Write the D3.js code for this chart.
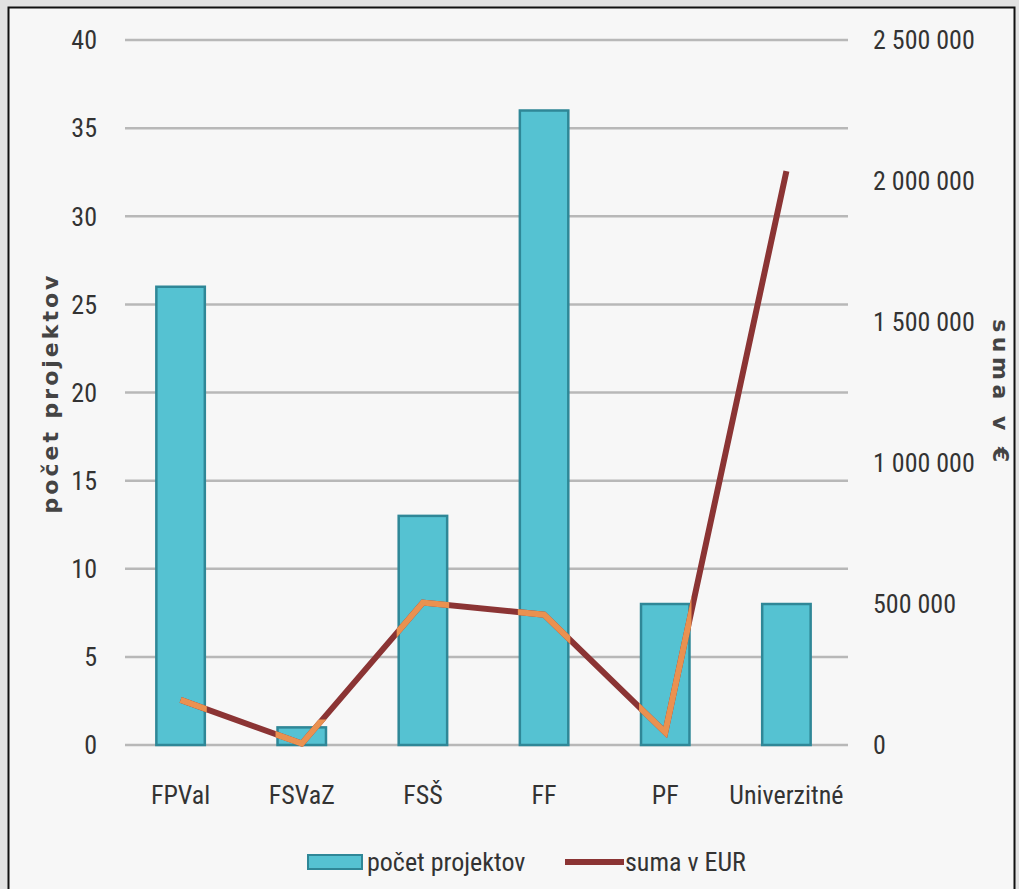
<!DOCTYPE html>
<html>
<head>
<meta charset="utf-8">
<script src="https://cdn.jsdelivr.net/npm/d3@7"></script>
<style>
  body { margin: 0; background: #e2e2e2; }
  text { font-family: "Liberation Sans Narrow", "Roboto Condensed", "Open Sans", sans-serif; fill: #333; }
</style>
</head>
<body>
<div id="chart"></div>
<script>
const categories = ["FPVal", "FSVaZ", "FSŠ", "FF", "PF", "Univerzitné"];
const projectCounts = [26, 1, 13, 36, 8, 8];
const sumsEur = [160000, 5000, 505000, 462000, 45000, 2035000];
const leftTicks = [0, 5, 10, 15, 20, 25, 30, 35, 40];
const rightTicks = [0, 500000, 1000000, 1500000, 2000000, 2500000];

const width = 1019;
const height = 889;
const fontSize = "26px";

const svg = d3.select("#chart")
  .append("svg")
  .attr("width", width)
  .attr("height", height)

// panel
svg.append("rect")
  .attr("x", 8.5).attr("y", 7.5)
  .attr("width", 1006).attr("height", 890)
  .attr("fill", "#f7f7f7")
  .attr("stroke", "#111")
  .attr("stroke-width", 2)

const xScale = d3.scaleBand()
  .domain(categories)
  .range([120, 847])
  .paddingInner(0.6)
  .paddingOuter(0.3)

const yLeft = d3.scaleLinear().domain([0, 40]).range([745, 40])
const yRight = d3.scaleLinear().domain([0, 2500000]).range([745, 40])

// gridlines
svg.append("g")
  .selectAll("line")
  .data(leftTicks)
  .enter()
  .append("line")
  .attr("x1", 125).attr("x2", 848)
  .attr("y1", d => yLeft(d)).attr("y2", d => yLeft(d))
  .attr("stroke", "#b8b8b8")
  .attr("stroke-width", 2.5)

const leftAxis = d3.axisLeft(yLeft).tickValues(leftTicks).tickSize(0).tickPadding(0)
svg.append("g")
  .attr("transform", "translate(97, 0)")
  .call(leftAxis)
  .call(g => g.select(".domain").remove())
  .selectAll("text")
  .style("font-size", fontSize)
  .attr("dy", "0.34em")

const fmt = d => d3.format(",")(d).replace(/,/g, " ")
const rightAxis = d3.axisRight(yRight).tickValues(rightTicks).tickSize(0).tickPadding(0).tickFormat(fmt)
svg.append("g")
  .attr("transform", "translate(873, 0)")
  .call(rightAxis)
  .call(g => g.select(".domain").remove())
  .selectAll("text")
  .style("font-size", fontSize)
  .attr("dy", "0.34em")

// bars
const bw = xScale.bandwidth()
svg.append("g")
  .selectAll("rect")
  .data(categories)
  .enter()
  .append("rect")
  .attr("x", d => xScale(d))
  .attr("y", (d, i) => yLeft(projectCounts[i]))
  .attr("width", bw)
  .attr("height", (d, i) => yLeft(0) - yLeft(projectCounts[i]))
  .attr("fill", "#55c2d2")
  .attr("stroke", "#2f8797")
  .attr("stroke-width", 2.5)

// line
const pts = categories.map((c, i) => [xScale(c) + bw / 2, yRight(sumsEur[i])])
const line = d3.line()

svg.append("path")
  .attr("d", line(pts))
  .attr("fill", "none")
  .attr("stroke", "#8b3434")
  .attr("stroke-width", 6)

// lighter tone where the line passes over the bars
const clip = svg.append("clipPath").attr("id", "barcols")
clip.selectAll("rect")
  .data(categories)
  .enter()
  .append("rect")
  .attr("x", d => xScale(d) - 2)
  .attr("y", (d, i) => yLeft(projectCounts[i]) - 8)
  .attr("width", bw + 4)
  .attr("height", (d, i) => yLeft(0) - yLeft(projectCounts[i]) + 20)

svg.append("path")
  .attr("d", line(pts))
  .attr("fill", "none")
  .attr("stroke", "#ea9150")
  .attr("stroke-width", 6)
  .attr("clip-path", "url(#barcols)")

// category labels
svg.append("g")
  .selectAll("text")
  .data(categories)
  .enter()
  .append("text")
  .attr("x", d => xScale(d) + bw / 2)
  .attr("y", 804)
  .attr("text-anchor", "middle")
  .style("font-size", fontSize)
  .text(d => d)

// axis titles
svg.append("text")
  .attr("transform", "translate(58, 393) rotate(-90)")
  .attr("text-anchor", "middle")
  .style("font-size", "22px")
  .style("font-weight", "bold")
  .style("letter-spacing", "3px")
  .style("font-family", "'DejaVu Sans', sans-serif")
  .style("fill", "#444")
  .text("počet projektov")

svg.append("text")
  .attr("transform", "translate(993, 393) rotate(90)")
  .attr("text-anchor", "middle")
  .style("font-size", "22px")
  .style("font-weight", "bold")
  .style("letter-spacing", "4.5px")
  .style("font-family", "'DejaVu Sans', sans-serif")
  .style("fill", "#444")
  .text("suma v €")

// legend
const legend = svg.append("g")
legend.append("rect")
  .attr("x", 308).attr("y", 855)
  .attr("width", 54).attr("height", 14)
  .attr("fill", "#55c2d2")
  .attr("stroke", "#2f8797")
  .attr("stroke-width", 2)
legend.append("text")
  .attr("x", 367).attr("y", 871)
  .style("font-size", fontSize)
  .text("počet projektov")
legend.append("line")
  .attr("x1", 565).attr("x2", 624)
  .attr("y1", 862).attr("y2", 862)
  .attr("stroke", "#8b3434")
  .attr("stroke-width", 6)
legend.append("text")
  .attr("x", 625).attr("y", 871)
  .style("font-size", fontSize)
  .text("suma v EUR")
</script>
</body>
</html>
